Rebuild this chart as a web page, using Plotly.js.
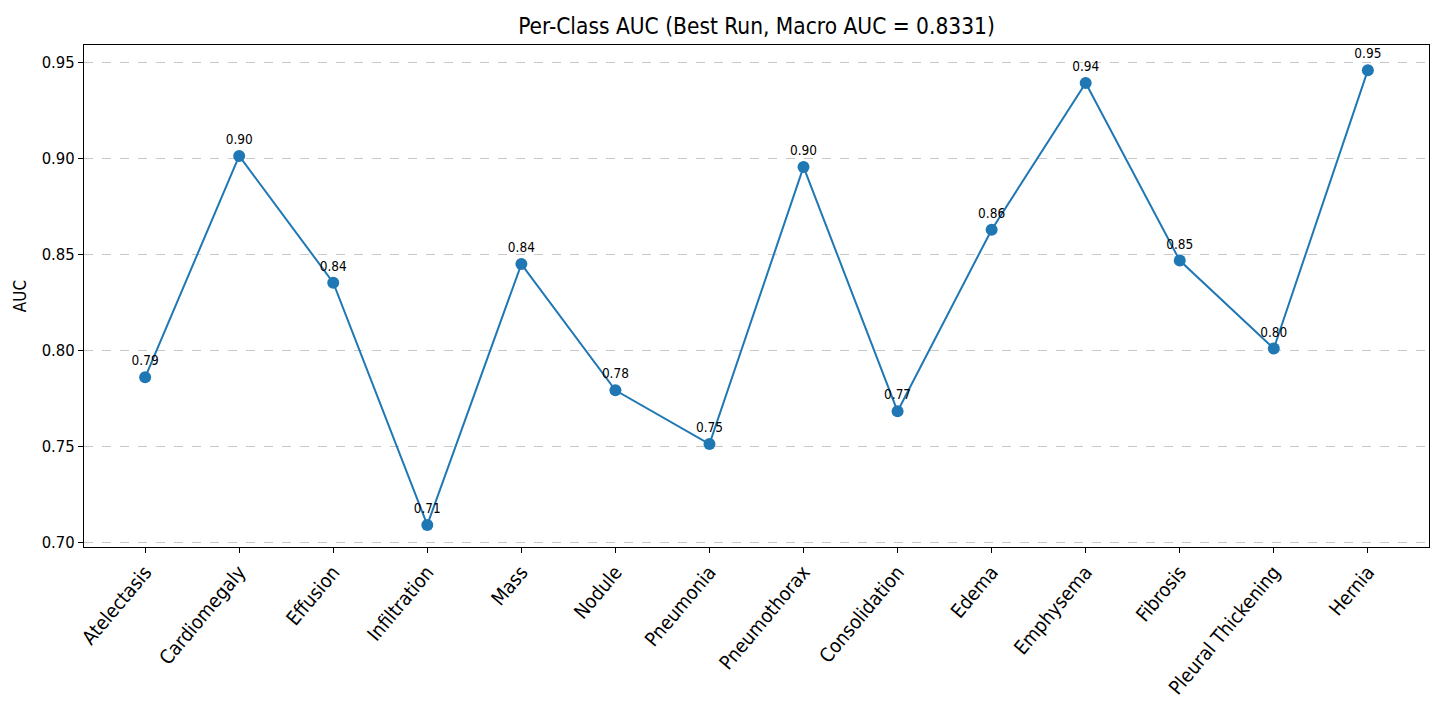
<!DOCTYPE html>
<html>
<head>
<meta charset="utf-8">
<script src="https://cdn.plot.ly/plotly-3.0.1.min.js"></script>
<style>html,body{margin:0;padding:0;background:#fff;}#chart{width:1439px;height:704px;}</style>
</head>
<body>
<div id="chart"></div>
<script>
const classes = ["Atelectasis","Cardiomegaly","Effusion","Infiltration","Mass","Nodule","Pneumonia","Pneumothorax","Consolidation","Edema","Emphysema","Fibrosis","Pleural Thickening","Hernia"];
const auc = [0.7858,0.9011,0.8351,0.7089,0.8448,0.7790,0.7510,0.8954,0.7681,0.8627,0.9391,0.8466,0.8008,0.9458];
const macroAuc = 0.8331;
const yTicks = [0.70,0.75,0.80,0.85,0.90,0.95];

const idx = classes.map((c,i)=>i);
const font = "'DejaVu Sans Condensed', 'DejaVu Sans', sans-serif";

const trace = {
  x: idx, y: auc, type: "scatter", mode: "lines+markers+text",
  line: {color: "#1f77b4", width: 2},
  marker: {color: "#1f77b4", size: 12},
  text: auc.map(v=>v.toFixed(2)),
  textposition: "top center",
  textfont: {family: font, size: 13.5, color: "#000"},
  cliponaxis: false,
  hoverinfo: "x+y"
};

const layout = {
  width: 1439, height: 704,
  margin: {l: 84, r: 10, t: 45, b: 157},
  paper_bgcolor: "#fff", plot_bgcolor: "#fff",
  showlegend: false,
  title: {text: "Per-Class AUC (Best Run, Macro AUC = " + macroAuc.toFixed(4) + ")", font: {family: font, size: 22.5, color: "#000"}, xref: "paper", x: 0.5, xanchor: "center", y: 0.963, yanchor: "middle"},
  xaxis: {
    range: [-0.65, 13.65], tickmode: "array", tickvals: idx, ticktext: classes,
    tickangle: -50, tickfont: {family: font, size: 19.5, color: "#000"},
    showgrid: false, zeroline: false, showline: true, linecolor: "#000", linewidth: 1, mirror: true,
    ticks: "outside", ticklen: 5, tickcolor: "#000"
  },
  yaxis: {
    range: [0.6974, 0.9589], tickmode: "array", tickvals: yTicks, ticktext: yTicks.map(v=>v.toFixed(2)),
    tickfont: {family: font, size: 16.5, color: "#000"},
    title: {text: "AUC", font: {family: font, size: 17, color: "#000"}, standoff: 10},
    showgrid: true, gridcolor: "rgba(176,176,176,0.7)", griddash: "dash", gridwidth: 1,
    zeroline: false, showline: true, linecolor: "#000", linewidth: 1, mirror: true,
    ticks: "outside", ticklen: 5, tickcolor: "#000"
  },
  font: {family: font}
};

Plotly.newPlot("chart", [trace], layout, {displayModeBar: false, staticPlot: true});
</script>
</body>
</html>
